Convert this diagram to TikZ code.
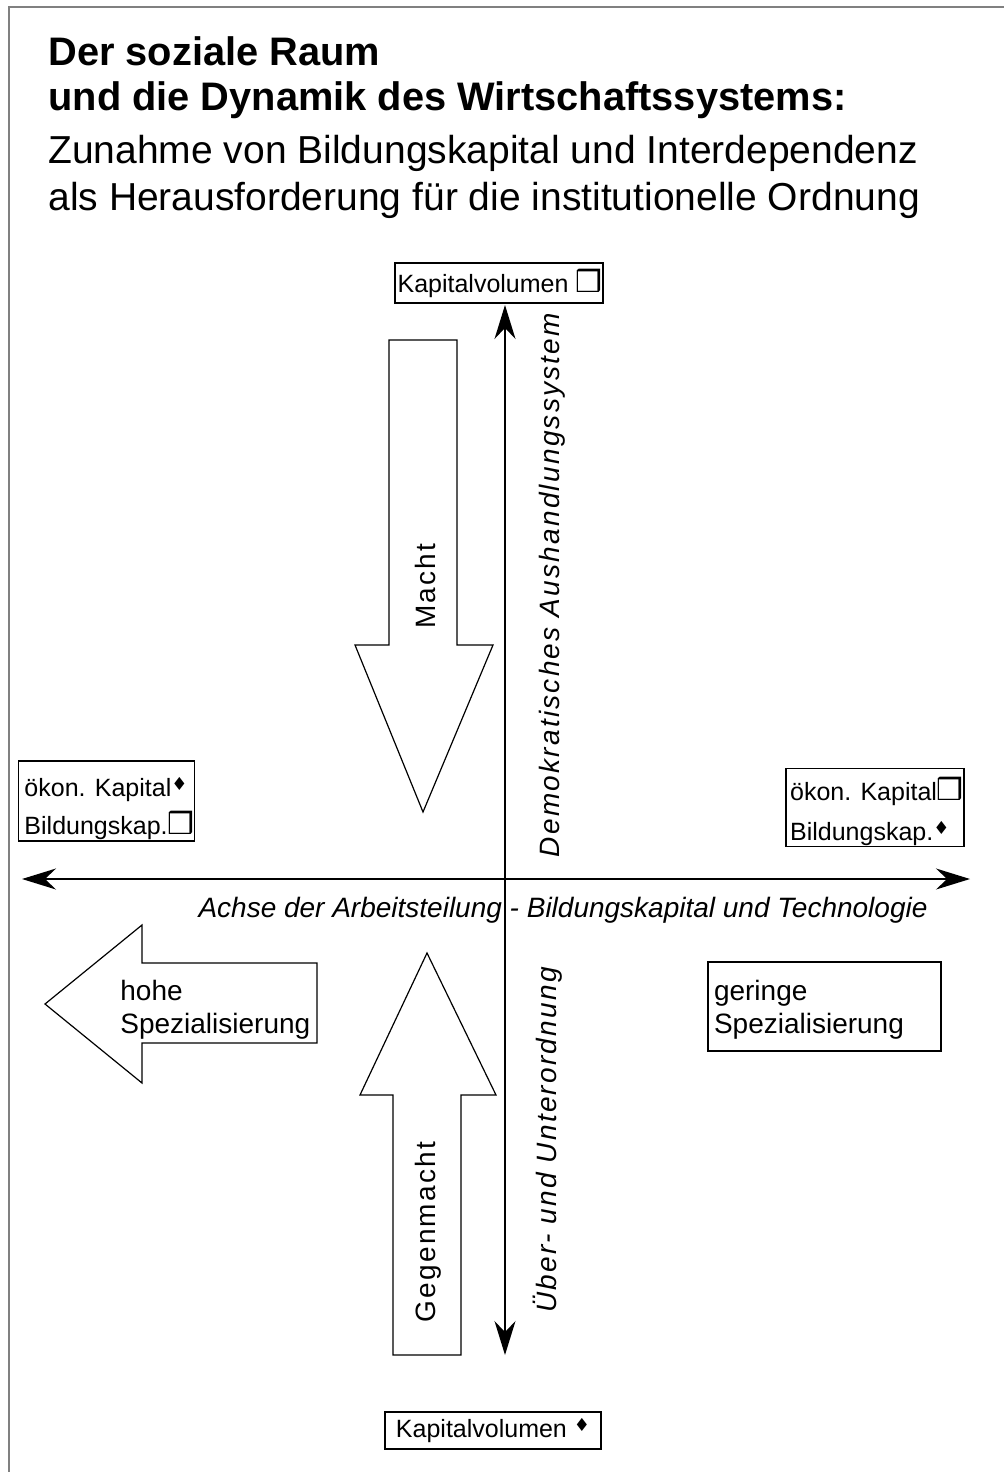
\documentclass[tikz,border=0pt]{standalone}
\usepackage{fontspec}
\setmainfont{Liberation Sans}
\newfontfamily\symfont{DejaVu Sans}
\newfontfamily\spacedfont[LetterSpace=8]{Liberation Sans}
\usetikzlibrary{arrows.meta}

\newcommand{\sqmark}{{\fontsize{15}{15}\symfont ❒}}
\newcommand{\dimark}{\raisebox{3pt}{\fontsize{9}{9}\symfont ♦}}
\newcommand{\shiftlines}[2]{\raisebox{#1}[\height][\depth]{\begin{tabular}{@{}l@{}}#2\end{tabular}}}

\begin{document}
\begin{tikzpicture}[x=0.5pt, y=-0.5pt,
  titlebf/.style={anchor=base west, inner sep=0pt, font=\fontsize{19.9}{23}\selectfont\bfseries},
  titlerm/.style={anchor=base west, inner sep=0pt, font=\fontsize{19.5}{23}\selectfont},
  box/.style={draw, line width=0.6pt, inner sep=0pt, font=\fontsize{12.5}{19}\selectfont},
  block/.style={draw, line width=0.6pt, line join=miter},
  axis/.style={line width=0.7pt, {Stealth[length=17pt,width=10.5pt]}-{Stealth[length=17pt,width=10.5pt]}},
  vlabel/.style={rotate=90, inner sep=0pt, font=\fontsize{14}{14}\spacedfont\itshape}]
\useasboundingbox (0,0) rectangle (1004,1472);
\draw[gray, line width=0.8pt] (9,1472) -- (9,7) -- (1004,7);

% title
\node[titlebf] (head1) at (48,65) {Der soziale Raum};
\node[titlebf] (head2) at (48,110) {und die Dynamik des Wirtschaftssystems:};
\node[titlerm] (head3) at (48,163) {Zunahme von Bildungskapital und Interdependenz};
\node[titlerm] (head4) at (48,210) {als Herausforderung für die institutionelle Ordnung};

% boxes at the axis ends
\node[box, minimum width=104pt, minimum height=20pt] (kaptop) at (499,283) {\kern1pt Kapitalvolumen \sqmark};
\node[box, minimum width=108pt, minimum height=18.5pt] (kapbot) at (493,1430.5) {Kapitalvolumen \dimark};
\node[box, minimum width=86.5pt, minimum height=40pt] (left) at (106.5,801) {\kern3pt\shiftlines{-3.5pt}{ökon. Kapital\dimark\\Bildungskap.\sqmark}};
\node[box, minimum width=89pt, minimum height=37.5pt] (right) at (875,807.5) {\kern2pt\shiftlines{-2.5pt}{ökon. Kapital\sqmark\\[1pt]Bildungskap.\dimark}};
\node[box, align=left, inner xsep=3pt, text width=110.5pt, minimum height=44.5pt, font=\fontsize{14}{16.5}\selectfont] (geringe) at (824.5,1006.5) {\shiftlines{-2pt}{geringe\\Spezialisierung}};

% axes
\coordinate (vtop) at (505,305);
\coordinate (vbot) at (505,1355);
\coordinate (hleft) at (22,879);
\coordinate (hright) at (970,879);
\draw[axis] (vtop) -- (vbot);
\draw[axis] (hleft) -- (hright);
\node[inner sep=0pt, font=\fontsize{14}{14}\selectfont\itshape] (achse) at (563,910) {Achse der Arbeitsteilung - Bildungskapital und Technologie};
\node[vlabel] (demo) at (552,585) {Demokratisches Aushandlungssystem};
\node[vlabel] (ordnung) at (548,1140) {Über- und Unterordnung};

% block arrows
\draw[block] (389,340) -- (457,340) -- (457,645) -- (493,645) -- (423,812) -- (355,645) -- (389,645) -- cycle;
\node[vlabel, font=\fontsize{14}{14}\spacedfont] (macht) at (425,586) {Macht};
\draw[block] (427,953) -- (496,1095) -- (461,1095) -- (461,1355) -- (393,1355) -- (393,1095) -- (360,1095) -- cycle;
\node[vlabel, font=\fontsize{14}{14}\spacedfont] (gegen) at (428,1232) {Gegenmacht};
\draw[block] (45,1004) -- (142,925) -- (142,963) -- (317,963) -- (317,1043) -- (142,1043) -- (142,1083) -- cycle;
\node[anchor=west, align=left, inner sep=0pt, font=\fontsize{14}{16.5}\selectfont] (hohe) at (120,1010) {hohe\\Spezialisierung};
\end{tikzpicture}
\end{document}
